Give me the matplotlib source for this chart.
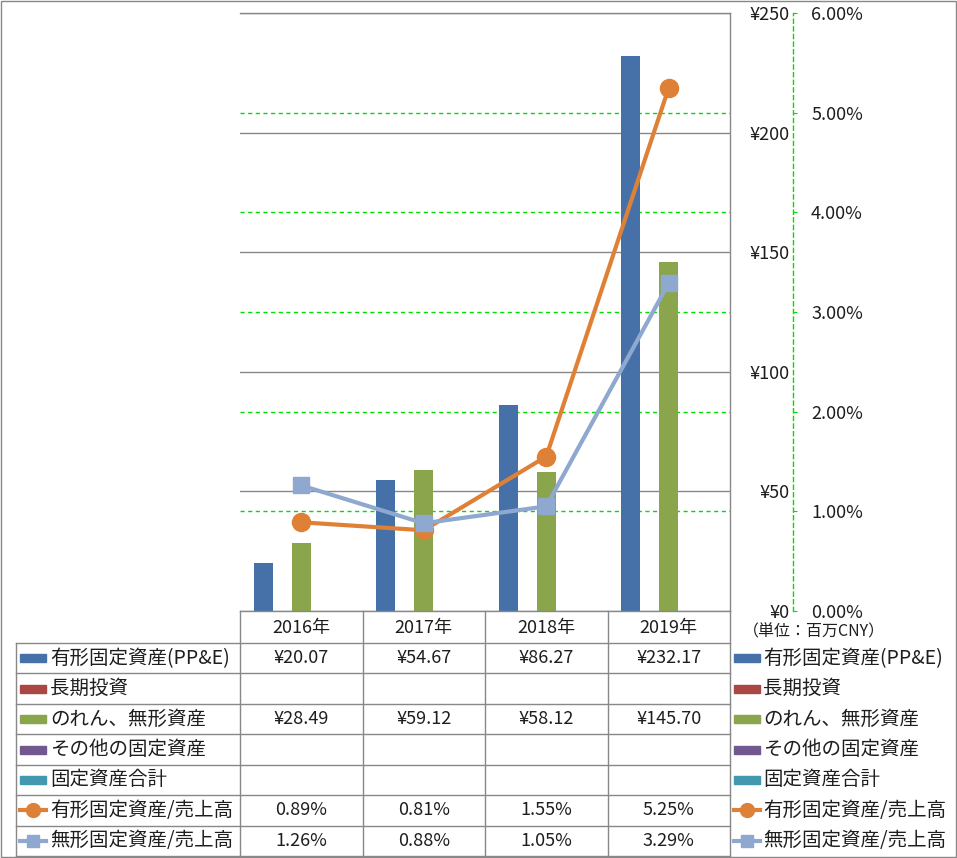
import numpy as np
import matplotlib
matplotlib.use("Agg")
import matplotlib.pyplot as plt
from matplotlib.patches import Rectangle
from matplotlib.lines import Line2D

plt.rcParams['font.family'] = ['Noto Sans CJK JP', 'DejaVu Sans']

# data
years = ['2016年', '2017年', '2018年', '2019年']
ppe = [20.07, 54.67, 86.27, 232.17]          # 有形固定資産(PP&E)
lt_invest = [None, None, None, None]         # 長期投資
goodwill = [28.49, 59.12, 58.12, 145.70]     # のれん、無形資産
other_fixed = [None, None, None, None]       # その他の固定資産
total_fixed = [None, None, None, None]       # 固定資産合計
ppe_ratio = [0.89, 0.81, 1.55, 5.25]         # 有形固定資産/売上高 (%)
intang_ratio = [1.26, 0.88, 1.05, 3.29]      # 無形固定資産/売上高 (%)

bar_names = ['有形固定資産(PP&E)', '長期投資', 'のれん、無形資産', 'その他の固定資産', '固定資産合計']
bar_data = [ppe, lt_invest, goodwill, other_fixed, total_fixed]
bar_colors = ['#4671A8', '#AA4643', '#8AA54B', '#71588F', '#4198AF']
line_names = ['有形固定資産/売上高', '無形固定資産/売上高']
line_data = [ppe_ratio, intang_ratio]
line_colors = ['#DE8137', '#8EA8CF']
line_markers = ['o', 's']

yen_ticks = [0, 50, 100, 150, 200, 250]
pct_ticks = [0, 1, 2, 3, 4, 5, 6]

GRAY = '#888888'
GREEN = '#00DD00'
TXT = '#1E1E1E'

W, H = 957, 858
fig = plt.figure(figsize=(W / 100, H / 100), dpi=100)

# plot area in pixels
x0, x1, y0, y1 = 240, 730, 13, 611
pos = [x0 / W, (H - y1) / H, (x1 - x0) / W, (y1 - y0) / H]
n = len(years)

# green percent gridlines behind everything
axg = fig.add_axes(pos, zorder=0)
axg.set_xlim(-0.5, n - 0.5)
axg.set_ylim(0, 6)
axg.set_yticks(pct_ticks[1:-1])
axg.set_xticks([])
axg.tick_params(left=False, labelleft=False)
axg.grid(axis='y', color=GREEN, linestyle=(0, (3, 2.5)), linewidth=1)
for s in axg.spines.values():
    s.set_visible(False)

# bars
ax = fig.add_axes(pos, zorder=1)
ax.patch.set_alpha(0)
bw = 19 / 122.5
x = np.arange(n)
for i, (vals, c) in enumerate(zip(bar_data, bar_colors)):
    v = np.array([np.nan if a is None else a for a in vals], dtype=float)
    ax.bar(x + (i - 2) * bw, v, width=bw, color=c, zorder=2)
ax.set_xlim(-0.5, n - 0.5)
ax.set_ylim(0, 250)
ax.set_axisbelow(True)
ax.grid(axis='y', color=GRAY, linewidth=1)
ax.set_xticks([])

# ratio lines on secondary axis
ax2 = ax.twinx()
for vals, c, m in zip(line_data, line_colors, line_markers):
    ax2.plot(x, vals, color=c, lw=3, marker=m, ms=13 if m == 'o' else 11.5,
             mec=c, mfc=c, zorder=3)
ax2.set_ylim(0, 6)
ax2.set_yticks(pct_ticks, labels=[f'{v:.2f}%' for v in pct_ticks])
ax2.tick_params(axis='y', direction='out', length=3, color=GREEN, pad=10,
                labelsize=13, labelcolor=TXT)
for s in ['top', 'left', 'bottom']:
    ax2.spines[s].set_visible(False)
ax2.spines['right'].set_position(('axes', (793 - x0) / (x1 - x0)))
ax2.spines['right'].set_color(GREEN)
ax2.spines['right'].set_linestyle((0, (3, 2.5)))
ax2.spines['right'].set_linewidth(1)

# primary yen labels sit on the right, after twinx reset them
ax.yaxis.tick_right()
ax.set_yticks(yen_ticks, labels=[f'¥{v}' for v in yen_ticks], ha='right')
ax.tick_params(axis='y', left=False, labelleft=False, right=False,
               labelright=True, length=0, pad=(790 - x1) * 0.72,
               labelsize=13, labelcolor=TXT)
ax.spines['left'].set_visible(False)
for s in ['top', 'right', 'bottom']:
    ax.spines[s].set_color(GRAY)
    ax.spines[s].set_linewidth(1)

# overlay in pixel coordinates for data table and legend
axo = fig.add_axes([0, 0, 1, 1], zorder=5)
axo.set_xlim(0, W)
axo.set_ylim(H, 0)
axo.axis('off')
axo.patch.set_alpha(0)

axo.add_patch(Rectangle((0.5, 0.5), W - 1.5, H - 1.5, fill=False,
                        edgecolor=GRAY, lw=1))

cols = np.linspace(x0, x1, n + 1)
rows = np.linspace(643, 856, 8)
kw = dict(color=GRAY, lw=1)
for r in rows:
    axo.plot([16, x1], [r, r], **kw)
axo.plot([16, 16], [rows[0], rows[-1]], **kw)
for c in cols:
    axo.plot([c, c], [y1, rows[-1]], **kw)

# header
for j, yr in enumerate(years):
    axo.text((cols[j] + cols[j + 1]) / 2, (y1 + rows[0]) / 2 + 1, yr,
             ha='center', va='center', fontsize=13, color=TXT)
axo.text(743, 632, '（単位：百万CNY）', ha='left', va='center',
         fontsize=11.5, color=TXT)

table_rows = [(bar_names[i], bar_data[i], 'bar', bar_colors[i], None)
              for i in range(5)]
table_rows += [(line_names[i], line_data[i], 'line', line_colors[i],
                line_markers[i]) for i in range(2)]

for k, (name, vals, kind, c, m) in enumerate(table_rows):
    yc = (rows[k] + rows[k + 1]) / 2
    for lx, tx in [(20, 50), (734, 763)]:
        if kind == 'bar':
            axo.add_patch(Rectangle((lx, yc - 4), 26, 8, color=c))
        else:
            axo.add_line(Line2D([lx, lx + 26], [yc, yc], color=c, lw=3))
            axo.plot([lx + 13], [yc], marker=m, ms=10 if m == 'o' else 9,
                     color=c)
        axo.text(tx, yc, name, ha='left', va='center', fontsize=14,
                 color=TXT)
    for j, v in enumerate(vals):
        if v is None:
            continue
        s = f'¥{v:.2f}' if kind == 'bar' else f'{v:.2f}%'
        axo.text((cols[j] + cols[j + 1]) / 2, yc, s, ha='center',
                 va='center', fontsize=13, color=TXT)

fig.savefig('out.png', dpi=100)
